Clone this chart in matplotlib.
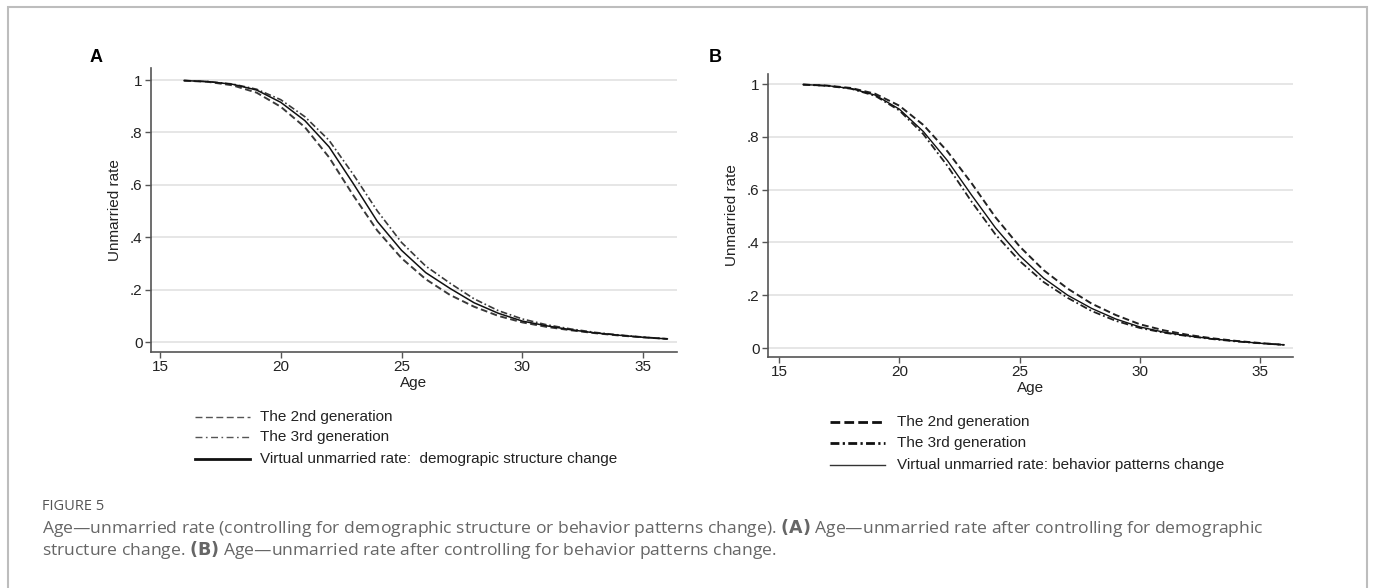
import matplotlib
matplotlib.use("Agg")
import matplotlib.pyplot as plt
from matplotlib.lines import Line2D
from matplotlib.patches import Rectangle

# ---------------- data ----------------
ages = [16, 17, 18, 19, 20, 21, 22, 23, 24, 25, 26, 27, 28, 29, 30, 31, 32, 33, 34, 35, 36]

# Panel A
a_gen2 = [0.998, 0.993, 0.980, 0.952, 0.898, 0.820, 0.705, 0.560, 0.425, 0.320, 0.240,
          0.180, 0.135, 0.100, 0.075, 0.058, 0.045, 0.034, 0.025, 0.018, 0.012]
a_gen3 = [0.998, 0.994, 0.985, 0.965, 0.925, 0.860, 0.770, 0.640, 0.500, 0.380, 0.290,
          0.225, 0.165, 0.120, 0.088, 0.066, 0.050, 0.037, 0.027, 0.019, 0.012]
a_virtual = [0.998, 0.994, 0.984, 0.962, 0.915, 0.845, 0.745, 0.605, 0.460, 0.350, 0.265,
             0.205, 0.150, 0.110, 0.080, 0.062, 0.047, 0.035, 0.026, 0.018, 0.012]

# Panel B
b_gen2 = [0.998, 0.994, 0.985, 0.963, 0.918, 0.845, 0.745, 0.625, 0.495, 0.385, 0.295,
          0.225, 0.168, 0.125, 0.090, 0.067, 0.050, 0.037, 0.027, 0.019, 0.012]
b_gen3 = [0.998, 0.993, 0.982, 0.955, 0.900, 0.810, 0.690, 0.555, 0.430, 0.330, 0.250,
          0.190, 0.140, 0.103, 0.076, 0.058, 0.045, 0.034, 0.025, 0.018, 0.012]
b_virtual = [0.998, 0.994, 0.983, 0.958, 0.905, 0.820, 0.710, 0.580, 0.455, 0.350, 0.265,
             0.200, 0.150, 0.110, 0.080, 0.060, 0.046, 0.035, 0.026, 0.018, 0.012]

x_ticks = [15, 20, 25, 30, 35]
y_ticks = [0, 0.2, 0.4, 0.6, 0.8, 1.0]
y_ticklabels = ["0", ".2", ".4", ".6", ".8", "1"]

labels_a = ["The 2nd generation", "The 3rd generation",
            "Virtual unmarried rate:  demograpic structure change"]
labels_b = ["The 2nd generation", "The 3rd generation",
            "Virtual unmarried rate: behavior patterns change"]

caption_head = "FIGURE 5"

# ---------------- layout ----------------
W, H = 1375, 588
fig = plt.figure(figsize=(W / 100, H / 100), dpi=100)
FONT = "Liberation Sans"


def fx(x):
    return x / W


def fy(y):
    return 1 - y / H


def add_axes_px(left, top, right, bottom):
    return fig.add_axes([fx(left), fy(bottom), (right - left) / W, (bottom - top) / H])


# border
fig.add_artist(Rectangle((fx(8), fy(590)), (1367 - 8) / W, (590 - 7) / H,
                         transform=fig.transFigure, fill=False, ec="#bdbdbd", lw=1.5))


def style_axes(ax, xlim, ylim):
    ax.set_xlim(*xlim)
    ax.set_ylim(*ylim)
    for s in ["top", "right"]:
        ax.spines[s].set_visible(False)
    for s in ["left", "bottom"]:
        ax.spines[s].set_color("#555555")
        ax.spines[s].set_linewidth(1.2)
    ax.set_xticks(x_ticks)
    ax.set_yticks(y_ticks)
    ax.set_yticklabels(y_ticklabels)
    ax.tick_params(axis="both", direction="out", length=4, width=1, color="#555555",
                   labelsize=11, labelcolor="#222222", pad=2)
    for lab in ax.get_xticklabels() + ax.get_yticklabels():
        lab.set_fontfamily(FONT)
    for yv in y_ticks:
        ax.axhline(yv, color="#e6e6e6", lw=1.4, zorder=0)
    ax.set_xlabel("Age", fontfamily=FONT, fontsize=11, color="#222222", labelpad=1)
    ax.set_ylabel("Unmarried rate", fontfamily=FONT, fontsize=11, color="#222222",
                  labelpad=6)


DASH = (0, (3.5, 1.8))
DASHDOT = (0, (4, 1.6, 1, 1.6))

# Panel A
axA = add_axes_px(151, 68, 677, 352)
style_axes(axA, (14.63, 36.4), (-0.038, 1.046))
axA.plot(ages, a_gen2, color="#3a3a3a", lw=1.4, ls=DASH)
axA.plot(ages, a_gen3, color="#3a3a3a", lw=1.2, ls=DASHDOT)
axA.plot(ages, a_virtual, color="#111111", lw=1.1, ls="-")

# Panel B
axB = add_axes_px(768, 74, 1293, 357)
style_axes(axB, (14.54, 36.37), (-0.034, 1.038))
axB.plot(ages, b_gen2, color="#222222", lw=1.4, ls=DASH)
axB.plot(ages, b_gen3, color="#222222", lw=1.3, ls=DASHDOT)
axB.plot(ages, b_virtual, color="#111111", lw=1.0, ls="-")

# panel letters
fig.text(fx(96), fy(57), "A", fontfamily=FONT, fontweight="bold", fontsize=13,
         ha="center", va="center")
fig.text(fx(715), fy(57), "B", fontfamily=FONT, fontweight="bold", fontsize=13,
         ha="center", va="center")


# legends
def legend_px(x0, x1, xt, ys, labels, styles):
    for y, lab, st in zip(ys, labels, styles):
        fig.add_artist(Line2D([fx(x0), fx(x1)], [fy(y), fy(y)], transform=fig.transFigure,
                              **st))
        fig.text(fx(xt), fy(y), lab, fontfamily=FONT, fontsize=11, color="#222222",
                 ha="left", va="center")


legend_px(195, 250, 260, [417, 437, 459], labels_a, [
    dict(color="#555555", lw=1.0, ls=(0, (5, 2.5))),
    dict(color="#555555", lw=1.0, ls=(0, (5, 2.5, 1.2, 2.5))),
    dict(color="#111111", lw=2.0, ls="-"),
])
legend_px(830, 885, 897, [422, 443, 465], labels_b, [
    dict(color="#111111", lw=2.0, ls=(0, (3.5, 1.5))),
    dict(color="#111111", lw=2.0, ls=(0, (3.2, 1.2, 0.8, 1.2))),
    dict(color="#333333", lw=1.0, ls="-"),
])

# caption
CAP = "Open Sans"
fig.text(fx(42), fy(506), caption_head, fontfamily=CAP, fontsize=10.5, color="#555555",
         ha="left", va="center")
fig.text(fx(42), fy(528),
         r"Age—unmarried rate (controlling for demographic structure or behavior patterns change). "
         r"$\bf{(A)}$ Age—unmarried rate after controlling for demographic",
         fontfamily=CAP, fontsize=12.6, color="#666666", ha="left", va="center")
fig.text(fx(42), fy(550),
         r"structure change. $\bf{(B)}$ Age—unmarried rate after controlling for behavior patterns change.",
         fontfamily=CAP, fontsize=12.6, color="#666666", ha="left", va="center")

fig.savefig("out.png", dpi=100)
